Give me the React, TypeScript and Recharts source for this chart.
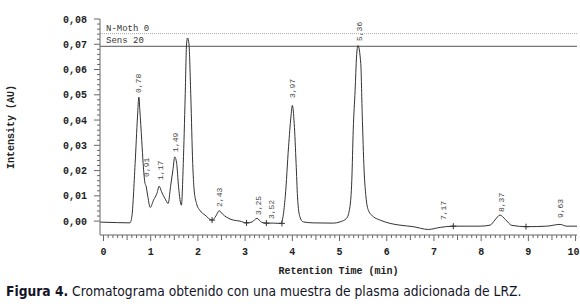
import { ComposedChart, Line, Scatter, XAxis, YAxis, ReferenceLine } from 'recharts'

// chromatogram trace
const traceTime = [
  -0.07, 0.3, 0.56, 0.6, 0.67, 0.72, 0.75, 0.77, 0.81, 0.84, 0.88, 0.9, 0.94, 0.99, 1.06, 1.13, 1.18, 1.23, 1.3,
  1.37, 1.42, 1.47, 1.51, 1.55, 1.59, 1.65, 1.69, 1.73, 1.76, 1.78, 1.81, 1.85, 1.89, 1.92, 1.97, 2.04, 2.15, 2.3,
  2.38, 2.45, 2.52, 2.61, 2.75, 2.89, 3.03, 3.15, 3.25, 3.35, 3.45, 3.6, 3.76, 3.85, 3.92, 3.97, 4.0, 4.04, 4.08,
  4.11, 4.16, 4.23, 4.44, 4.87, 5.01, 5.15, 5.22, 5.26, 5.29, 5.33, 5.36, 5.39, 5.45, 5.48, 5.52, 5.56, 5.61, 5.72,
  5.86, 6.07, 6.28, 6.56, 6.88, 7.13, 7.41, 7.98, 8.19, 8.29, 8.4, 8.51, 8.65, 8.97, 9.39, 9.67, 9.81, 10.03,
]
const traceAU = [
  -0.0004, -0.0006, -0.0007, 0.0017, 0.0228, 0.0412, 0.0491, 0.0439, 0.032, 0.0228, 0.0149, 0.014, 0.0096, 0.0054,
  0.0083, 0.0109, 0.0138, 0.0116, 0.009, 0.007, 0.0136, 0.0202, 0.0254, 0.0228, 0.0136, 0.0063, 0.0228, 0.0491,
  0.0702, 0.0725, 0.0702, 0.0491, 0.0228, 0.0123, 0.007, 0.0043, 0.0024, 0.0004, 0.002, 0.0041, 0.0028, 0.0015,
  0.0004, 0.0, -0.0007, -0.0003, 0.0011, -0.0005, -0.0008, -0.0008, -0.0009, 0.0096, 0.0294, 0.0412, 0.0458,
  0.0386, 0.0228, 0.0096, 0.0017, -0.0003, -0.0007, -0.0008, -0.0003, 0.0011, 0.0057, 0.0162, 0.036, 0.0518,
  0.065, 0.0695, 0.0623, 0.0426, 0.0202, 0.0096, 0.0043, 0.0017, 0.0004, -0.0009, -0.0016, -0.0022, -0.0033,
  -0.0025, -0.002, -0.002, -0.0016, 0.0004, 0.0024, 0.0007, -0.0017, -0.0022, -0.002, -0.0013, -0.002, -0.002,
]

// peak annotations (text, time, height where the label starts)
const peakNames = ['0,78', '0,91', '1,17', '1,49', '2,43', '3,25', '3,52', '3,97', '5,36', '7,17', '8,37', '9,63']
const peakTimes = [0.74, 0.89, 1.2, 1.52, 2.45, 3.27, 3.55, 3.99, 5.41, 7.19, 8.42, 9.67]
const peakLabelAU = [0.0507, 0.0175, 0.0163, 0.0274, 0.0056, 0.0024, 0.0008, 0.0487, 0.0713, 0.0004, 0.0036, 0.0012]

// integration marks on the baseline
const markTimes = [2.3, 3.03, 3.45, 3.78, 7.41, 8.95]
const markAU = [0.0004, -0.0007, -0.0008, -0.0009, -0.002, -0.0022]

const xTickLabels = ['0', '1', '2', '3', '4', '5', '6', '7', '8', '9', '10']
const yTickLabels = ['0,00', '0,01', '0,02', '0,03', '0,04', '0,05', '0,06', '0,07', '0,08']
const nMothLevel = 0.0742
const sensLevel = 0.0692

const data = traceTime.map((t, i) => ({ t, v: traceAU[i] }))
const peaks = peakTimes.map((t, i) => ({ t, v: peakLabelAU[i], name: peakNames[i] }))
const marks = markTimes.map((t, i) => ({ t, v: markAU[i] }))

const xTicks = Array.from({ length: 101 }, (_, i) => i / 10)
const yTicks = Array.from({ length: 41 }, (_, i) => i / 500)

const mono = '"Liberation Mono", "DejaVu Sans Mono", monospace'
const ink = '#333'

function XTick({ x, y, payload }: any) {
  const step = Math.round(payload.value * 10)
  const major = step % 10 === 0
  const len = major ? 6 : step % 5 === 0 ? 5 : 3
  const last = step === 100
  return (
    <g>
      <line x1={x} x2={x} y1={y} y2={y + len} stroke="#666" />
      {major && (
        <text
          x={last ? x + 4 : x}
          y={y + 20}
          textAnchor={last ? 'end' : 'middle'}
          fontFamily={mono}
          fontWeight="bold"
          fontSize={10}
          fill="#222"
        >
          {xTickLabels[step / 10]}
        </text>
      )}
    </g>
  )
}

function YTick({ x, y, payload }: any) {
  const step = Math.round(payload.value * 500)
  const major = step % 5 === 0
  return (
    <g>
      <line x1={x - (major ? 6 : 3)} x2={x} y1={y} y2={y} stroke="#666" />
      {major && (
        <text x={x - 13} y={y + 3.5} textAnchor="end" fontFamily={mono} fontWeight="bold" fontSize={10} fill="#222">
          {yTickLabels[step / 5]}
        </text>
      )}
    </g>
  )
}

function PeakLabel({ cx, cy, payload }: any) {
  return (
    <text
      transform={`translate(${cx + 3},${cy}) rotate(-90)`}
      fontFamily={mono}
      fontSize={8}
      fill="#444"
    >
      {payload.name}
    </text>
  )
}

function Mark({ cx, cy }: any) {
  return (
    <g stroke="#333">
      <line x1={cx - 3} x2={cx + 3} y1={cy} y2={cy} />
      <line x1={cx} x2={cx} y1={cy - 3} y2={cy + 3} />
    </g>
  )
}

function lineTag(text: string) {
  return ({ viewBox }: any) => (
    <text x={viewBox.x + 6} y={viewBox.y - 3} fontFamily={mono} fontSize={9} fill="#333">
      {text}
    </text>
  )
}

function YTitle({ viewBox }: any) {
  const cy = viewBox.y + viewBox.height / 2
  return (
    <text
      transform={`translate(14,${cy}) rotate(-90)`}
      textAnchor="middle"
      fontFamily={mono}
      fontWeight="bold"
      fontSize={10}
      fill="#222"
    >
      Intensity (AU)
    </text>
  )
}

export default function App() {
  return (
    <div style={{ position: 'absolute', left: 0, top: 0, width: 580, height: 308, background: '#fff' }}>
      <ComposedChart width={580} height={280} data={data} margin={{ top: 19, right: 3, bottom: 0, left: 4 }}>
        <XAxis
          type="number"
          dataKey="t"
          domain={[-0.074, 10.03]}
          allowDataOverflow
          ticks={xTicks}
          interval={0}
          tick={<XTick />}
          tickLine={false}
          tickSize={0}
          tickMargin={0}
          height={45}
          axisLine={{ stroke: '#666' }}
          label={{
            value: 'Retention Time (min)',
            position: 'insideBottom',
            offset: 6,
            style: { fontFamily: mono, fontWeight: 'bold', fontSize: 10, fill: '#222' },
          }}
        />
        <YAxis
          type="number"
          domain={[-0.0055, 0.08]}
          allowDataOverflow
          ticks={yTicks}
          interval={0}
          tick={<YTick />}
          tickLine={false}
          tickSize={0}
          tickMargin={0}
          width={96}
          axisLine={{ stroke: '#666' }}
          label={<YTitle />}
        />
        <ReferenceLine y={nMothLevel} stroke="#aaa" strokeDasharray="1 1" label={lineTag('N-Moth 0')} />
        <ReferenceLine y={sensLevel} stroke="#555" label={lineTag('Sens 20')} />
        <Line
          type="monotone"
          dataKey="v"
          stroke={ink}
          strokeWidth={1}
          dot={false}
          isAnimationActive={false}
        />
        <Scatter data={marks} dataKey="v" shape={<Mark />} isAnimationActive={false} />
        <Scatter data={peaks} dataKey="v" shape={<PeakLabel />} isAnimationActive={false} />
      </ComposedChart>
      <div
        style={{
          position: 'absolute',
          left: 6,
          top: 283,
          fontFamily: '"Liberation Sans Narrow", "DejaVu Sans Condensed", sans-serif',
          fontSize: 13.7,
          color: '#141428',
          whiteSpace: 'nowrap',
        }}
      >
        <b>Figura 4.</b> Cromatograma obtenido con una muestra de plasma adicionada de LRZ.
      </div>
    </div>
  )
}
